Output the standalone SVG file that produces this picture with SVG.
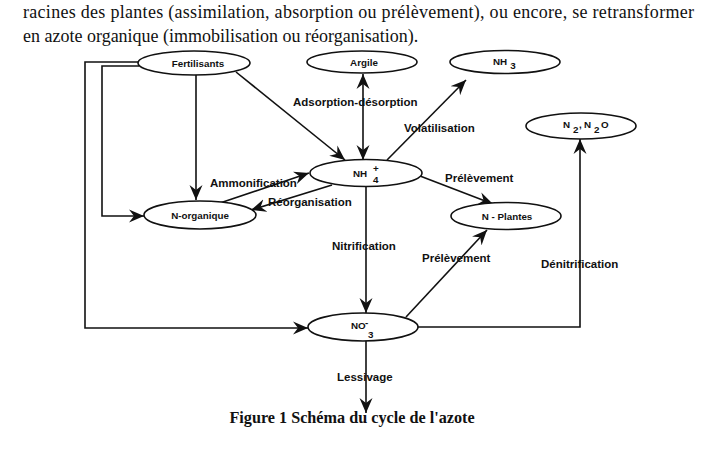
<svg xmlns="http://www.w3.org/2000/svg" width="707" height="451" viewBox="0 0 707 451">
<style>
.body{font-family:"Liberation Serif","Times New Roman",serif;font-size:18px;fill:#111}
.cap{font-family:"Liberation Serif","Times New Roman",serif;font-size:16.2px;font-weight:bold;fill:#111}
.node ellipse{fill:#fff;stroke:#111;stroke-width:1.6}
.nl{font-family:"Liberation Sans",Arial,sans-serif;font-size:9.8px;font-weight:bold;fill:#111}
.el{font-family:"Liberation Sans",Arial,sans-serif;font-size:11.5px;font-weight:bold;fill:#111}
.c line,.c polyline{fill:none;stroke:#111;stroke-width:1.6}
</style>
<defs>
<marker id="ah" viewBox="-15 -7 16 14" refX="0" refY="0" markerWidth="16" markerHeight="14" markerUnits="userSpaceOnUse" orient="auto-start-reverse">
<path d="M0,0 L-15,-6.5 L-10,0 L-15,6.5 Z" fill="#111"/>
</marker>
</defs>
<rect width="707" height="451" fill="#fff"/>
<text class="body" x="23" y="18" textLength="671" lengthAdjust="spacing">racines des plantes (assimilation, absorption ou prélèvement), ou encore, se retransformer</text>
<text class="body" x="23" y="42">en azote organique (immobilisation ou réorganisation).</text>

<g class="c" id="connectors">
<line x1="236" y1="72" x2="345" y2="160" marker-end="url(#ah)"/>
<line x1="196" y1="75" x2="196" y2="200" marker-end="url(#ah)"/>
<polyline points="138,62 85,62 85,328 308,328" marker-end="url(#ah)"/>
<polyline points="139,66 102,66 102,216 144,216" marker-end="url(#ah)"/>
<line x1="363" y1="74" x2="363" y2="160" marker-start="url(#ah)" marker-end="url(#ah)"/>
<line x1="387" y1="160" x2="466" y2="80" marker-end="url(#ah)"/>
<line x1="220" y1="203" x2="309" y2="173" marker-end="url(#ah)"/>
<line x1="332" y1="185" x2="251" y2="210" marker-end="url(#ah)"/>
<line x1="420" y1="176" x2="493" y2="204" marker-end="url(#ah)"/>
<line x1="366" y1="187" x2="366" y2="313" marker-end="url(#ah)"/>
<line x1="406" y1="317" x2="487" y2="230" marker-end="url(#ah)"/>
<polyline points="418,327 580,327 580,139" marker-end="url(#ah)"/>
<line x1="366" y1="341" x2="366" y2="413" marker-end="url(#ah)"/>
</g>

<g class="node" id="fertilisants"><ellipse cx="194" cy="63" rx="56" ry="12"/><text class="nl" x="198" y="66.5" text-anchor="middle">Fertilisants</text></g>
<g class="node" id="argile"><ellipse cx="362" cy="62" rx="55" ry="11"/><text class="nl" x="364" y="65.5" text-anchor="middle">Argile</text></g>
<g class="node" id="nh3"><ellipse cx="505" cy="62" rx="55" ry="11.5"/><text class="nl" x="493" y="65">NH<tspan dx="3" dy="4">3</tspan></text></g>
<g class="node" id="n2"><ellipse cx="581" cy="126" rx="55" ry="13"/><text class="nl" x="563" y="128">N</text><text class="nl" x="573" y="133">2</text><text class="nl" x="579" y="128">,</text><text class="nl" x="584" y="128">N</text><text class="nl" x="594" y="133">2</text><text class="nl" x="601" y="128">O</text></g>
<g class="node" id="nh4"><ellipse cx="366" cy="173" rx="56" ry="13.5"/><text class="nl" x="353" y="177">NH</text><text class="nl" x="373" y="172">+</text><text class="nl" x="373" y="183">4</text></g>
<g class="node" id="norganique"><ellipse cx="200" cy="215" rx="56" ry="14"/><text class="nl" x="200" y="219" text-anchor="middle">N-organique</text></g>
<g class="node" id="nplantes"><ellipse cx="506" cy="216" rx="55" ry="13.5"/><text class="nl" x="507" y="219.5" text-anchor="middle">N - Plantes</text></g>
<g class="node" id="no3"><ellipse cx="363" cy="327" rx="55" ry="14"/><text class="nl" x="351" y="329">NO</text><text class="nl" x="365" y="326">-</text><text class="nl" x="368" y="338">3</text></g>

<g id="labels">
<text class="el" x="293" y="106">Adsorption-désorption</text>
<text class="el" x="404" y="132">Volatilisation</text>
<text class="el" x="210" y="187">Ammonification</text>
<text class="el" x="268" y="206">Réorganisation</text>
<text class="el" x="445" y="182">Prélèvement</text>
<text class="el" x="332" y="250">Nitrification</text>
<text class="el" x="422" y="262">Prélèvement</text>
<text class="el" x="541" y="268">Dénitrification</text>
<text class="el" x="337" y="381">Lessivage</text>
</g>
<text class="cap" x="352" y="423" text-anchor="middle">Figure 1 Schéma du cycle de l'azote</text>
</svg>
